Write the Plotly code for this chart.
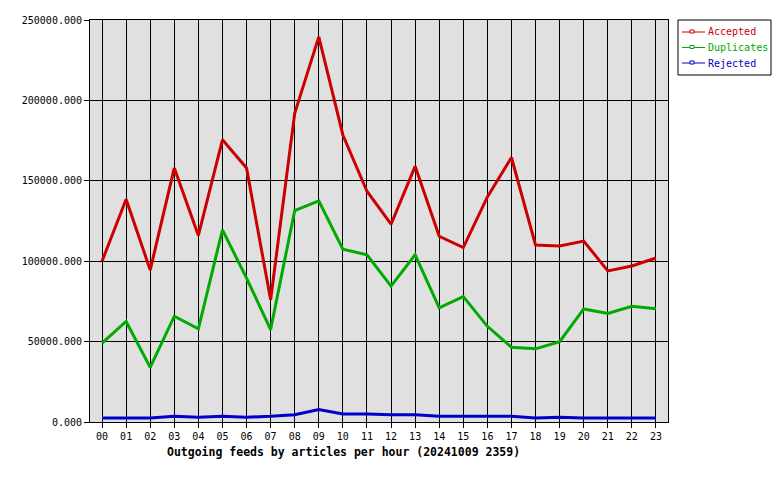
import plotly.graph_objects as go

hours = [f"{h:02d}" for h in range(24)]
accepted = [100000, 138500, 94500, 158000, 116000, 175500, 158000, 76000, 192000, 239500,
            178500, 143500, 123000, 159000, 115500, 108500, 140000, 164500, 110000, 109500,
            112500, 94000, 97000, 102000]
duplicates = [49000, 62500, 34000, 65800, 58000, 119500, 89500, 57500, 131500, 137500,
              107500, 104000, 84500, 104000, 71000, 78000, 59500, 46500, 45500, 50000,
              70300, 67500, 72000, 70500]
rejected = [2500, 2500, 2500, 3500, 3000, 3500, 3000, 3500, 4500, 7800,
            5000, 5000, 4500, 4500, 3500, 3500, 3500, 3500, 2500, 3000,
            2500, 2500, 2500, 2500]

series_names = ["Accepted", "Duplicates", "Rejected"]
series_values = [accepted, duplicates, rejected]
series_colors = ["#cc0000", "#00aa00", "#0000cc"]

W, H = 780, 480
L, R, T, B = 90, 112, 20, 58
pw = W - L - R
ph = H - T - B


def px(x):
    return (x - L) / pw


def py(y):
    return (T + ph - y) / ph


fig = go.Figure()
for name, vals, col in zip(series_names, series_values, series_colors):
    fig.add_trace(go.Scatter(x=hours, y=vals, name=name, mode="lines",
                             line=dict(color=col, width=3), showlegend=False))

font = "DejaVu Sans Mono, Liberation Mono, monospace"

# custom legend (box, sample lines, markers, coloured labels)
shapes = [dict(type="rect", xref="paper", yref="paper",
               x0=px(678), x1=px(771), y0=py(75), y1=py(20),
               line=dict(color="black", width=1), fillcolor="white", layer="above")]
annotations = []
for i, (name, col) in enumerate(zip(series_names, series_colors)):
    yy = 32 + i * 15.5
    shapes.append(dict(type="line", xref="paper", yref="paper",
                       x0=px(682), x1=px(705), y0=py(yy), y1=py(yy),
                       line=dict(color=col, width=1), layer="above"))
    shapes.append(dict(type="rect", xref="paper", yref="paper",
                       x0=px(690), x1=px(694), y0=py(yy + 1), y1=py(yy - 2),
                       line=dict(color=col, width=1), fillcolor="white", layer="above"))
    annotations.append(dict(text=name, x=px(706), y=py(yy), xref="paper", yref="paper",
                            xanchor="left", yanchor="middle", showarrow=False,
                            font=dict(family=font, size=10, color=col)))

annotations.append(dict(text="<b>Outgoing feeds by articles per hour (20241009 2359)</b>",
                        x=px(343), xref="paper", y=py(452), yref="paper",
                        xanchor="center", yanchor="middle", showarrow=False,
                        font=dict(family=font, size=11.5, color="black")))

fig.update_layout(
    width=W, height=H,
    margin=dict(l=L, r=R, t=T, b=B, autoexpand=False),
    paper_bgcolor="white", plot_bgcolor="#e0e0e0",
    font=dict(family=font, size=10, color="black"),
    showlegend=False,
    xaxis=dict(type="category", range=[-0.5, 23.5], showgrid=True,
               gridcolor="black", gridwidth=1, showline=True, linecolor="black",
               linewidth=1, mirror=True, ticks="outside", ticklen=5,
               tickcolor="black", tickfont=dict(family=font, size=10)),
    yaxis=dict(range=[0, 250000], dtick=50000, tickformat=".3f",
               showgrid=True, gridcolor="black", gridwidth=1, showline=True,
               linecolor="black", linewidth=1, mirror=True, ticks="outside",
               ticklen=5, tickcolor="black", zeroline=False,
               tickfont=dict(family=font, size=10)),
    shapes=shapes,
    annotations=annotations,
)

fig.write_html("out.html")
